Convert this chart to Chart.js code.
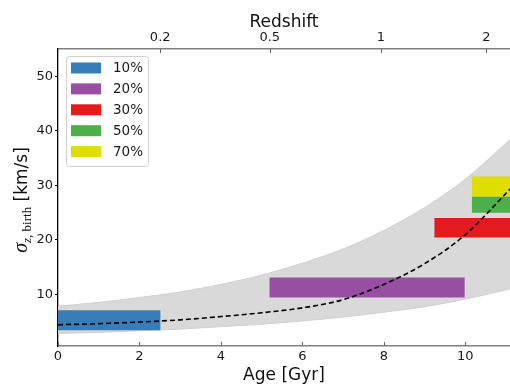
<!DOCTYPE html>
<html>
<head>
<meta charset="utf-8">
<script src="https://cdn.jsdelivr.net/npm/chart.js@4.4.1/dist/chart.umd.min.js"></script>
<style>
  html, body { margin: 0; padding: 0; background: #fff; }
  #wrap { width: 510px; height: 385px; }
</style>
</head>
<body>
<div id="wrap"><canvas id="sigmaChart"></canvas></div>
<script>
// age grid (Gyr) for the envelope and the fitted relation
const ageGrid   = [0, 1, 2, 3, 4, 5, 6, 7, 8, 9, 10, 11, 11.1];
const sigmaLow  = [2.8, 3.0, 3.3, 3.6, 4.05, 4.5, 5.1, 5.8, 6.7, 7.7, 9.1, 10.8, 11.0];
const sigmaHigh = [7.8, 8.5, 9.4, 10.4, 11.8, 13.5, 15.7, 18.3, 21.7, 25.9, 31.1, 37.7, 38.4];
const sigmaFit  = [4.4, 4.6, 4.9, 5.3, 5.9, 6.6, 7.5, 9.0, 11.8, 15.6, 20.9, 28.5, 29.3];

// boxes: age range and sigma range for each group
const groupLabels = ['10%', '20%', '30%', '50%', '70%'];
const groupColors = ['#377eb8', '#984ea3', '#e41a1c', '#4daf4a', '#dede00'];
const ageStart = [0, 5.19, 9.24, 10.16, 10.16];
const ageEnd   = [2.52, 9.99, 11.1, 11.1, 11.1];
const sigmaMin = [3.4, 9.4, 20.4, 24.95, 27.9];
const sigmaMax = [7.05, 13.05, 24.0, 27.9, 31.6];

// axis ticks
const ageTicks = [0, 2, 4, 6, 8, 10];
const sigmaTicks = [10, 20, 30, 40, 50];
const redshiftLabels = ['0.2', '0.5', '1', '2'];
const redshiftAges = [2.51, 5.2, 7.93, 10.52];

const toPoints = ys => ageGrid.map((a, i) => ({ x: a, y: ys[i] }));

const datasets = [];
// fitted relation, drawn on top
datasets.push({
    data: toPoints(sigmaFit),
    borderColor: '#000',
    borderWidth: 1.6,
    borderDash: [5, 3],
    pointRadius: 0,
    cubicInterpolationMode: 'monotone',
    fill: false
});
// one box per group: top edge filled down to the lower sigma
groupLabels.forEach((lab, i) => {
    datasets.push({
        label: lab,
        data: [{ x: ageStart[i], y: sigmaMax[i] }, { x: ageEnd[i], y: sigmaMax[i] }],
        borderWidth: 0,
        borderColor: groupColors[i],
        backgroundColor: groupColors[i],
        pointRadius: 0,
        fill: { target: { value: sigmaMin[i] } }
    });
});
// grey envelope
datasets.push({
    data: toPoints(sigmaLow),
    borderColor: '#cfcfcf',
    borderWidth: 1,
    pointRadius: 0,
    cubicInterpolationMode: 'monotone',
    fill: false
});
datasets.push({
    data: toPoints(sigmaHigh),
    borderColor: '#cfcfcf',
    borderWidth: 1,
    pointRadius: 0,
    cubicInterpolationMode: 'monotone',
    backgroundColor: '#d9d9d9',
    fill: '-1'
});

// titles, inward x ticks and the legend box
const extras = {
    id: 'extras',
    afterDraw(chart) {
        const ctx = chart.ctx;
        const area = chart.chartArea;
        const xb = chart.scales.x;
        const xt = chart.scales.xTop;
        ctx.save();

        ctx.strokeStyle = '#666';
        ctx.lineWidth = 1;
        ctx.beginPath();
        ageTicks.forEach(v => {
            const px = Math.round(xb.getPixelForValue(v)) + 0.5;
            ctx.moveTo(px, area.bottom);
            ctx.lineTo(px, area.bottom - 4);
        });
        redshiftAges.forEach(v => {
            const px = Math.round(xt.getPixelForValue(v)) + 0.5;
            ctx.moveTo(px, area.top);
            ctx.lineTo(px, area.top + 4);
        });
        ctx.stroke();

        ctx.fillStyle = '#111';
        ctx.textAlign = 'center';
        ctx.textBaseline = 'alphabetic';
        ctx.font = '17px "DejaVu Sans"';
        const cx = (area.left + area.right) / 2;
        ctx.fillText('Age [Gyr]', cx, 380);
        ctx.fillText('Redshift', cx, 27);

        // sigma_{z, birth} [km/s], rotated
        ctx.save();
        ctx.translate(27, 200);
        ctx.rotate(-Math.PI / 2);
        ctx.textAlign = 'left';
        const parts = [
            { t: '\u03c3', f: 'italic 20px "Liberation Serif"', dy: 0 },
            { t: 'z', f: 'italic 13px "Liberation Serif"', dy: 4 },
            { t: ', birth', f: '13px "Liberation Serif"', dy: 4 },
            { t: ' [km/s]', f: '17px "DejaVu Sans"', dy: 0 }
        ];
        let total = 0;
        parts.forEach(p => { ctx.font = p.f; p.w = ctx.measureText(p.t).width; total += p.w; });
        let x = -total / 2;
        parts.forEach(p => { ctx.font = p.f; ctx.fillText(p.t, x, p.dy); x += p.w; });
        ctx.restore();

        // legend
        const lx = 66, ly = 56, lw = 82, lh = 110;
        ctx.fillStyle = 'rgba(255,255,255,0.85)';
        ctx.strokeStyle = '#d0d0d0';
        ctx.lineWidth = 1;
        ctx.beginPath();
        ctx.roundRect(lx + 0.5, ly + 0.5, lw, lh, 3);
        ctx.fill();
        ctx.stroke();
        ctx.font = '13.5px "DejaVu Sans"';
        ctx.textBaseline = 'middle';
        ctx.textAlign = 'left';
        groupLabels.forEach((lab, i) => {
            const cy = 68 + i * 20.9;
            ctx.fillStyle = groupColors[i];
            ctx.fillRect(71, cy - 5.5, 30, 11);
            ctx.fillStyle = '#1a1a1a';
            ctx.fillText(lab, 113, cy + 0.5);
        });
        ctx.restore();
    }
};

const tickFont = { family: 'DejaVu Sans', size: 13 };

new Chart(document.getElementById('sigmaChart'), {
    type: 'line',
    data: { datasets: datasets },
    options: {
        responsive: true,
        maintainAspectRatio: false,
        animation: false,
        layout: { padding: 0 },
        plugins: {
            legend: { display: false },
            tooltip: { enabled: false }
        },
        scales: {
            x: {
                type: 'linear',
                position: 'bottom',
                min: 0,
                max: 11.1,
                afterBuildTicks: s => { s.ticks = ageTicks.map(v => ({ value: v })); },
                afterFit: s => { s.height = 39; },
                grid: { drawOnChartArea: false, drawTicks: false },
                border: { color: '#808080', width: 1.5 },
                ticks: { padding: 3, color: '#1a1a1a', font: tickFont }
            },
            xTop: {
                type: 'linear',
                position: 'top',
                min: 0,
                max: 11.1,
                afterBuildTicks: s => { s.ticks = redshiftAges.map(v => ({ value: v })); },
                afterFit: s => { s.height = 49; },
                grid: { drawOnChartArea: false, drawTicks: false },
                border: { color: '#808080', width: 1.5 },
                ticks: {
                    padding: 4,
                    color: '#1a1a1a',
                    font: tickFont,
                    callback: (v, i) => redshiftLabels[i]
                }
            },
            y: {
                type: 'linear',
                min: 0.5,
                max: 55,
                afterBuildTicks: s => { s.ticks = sigmaTicks.map(v => ({ value: v })); },
                afterFit: s => { s.width = 58; },
                grid: { drawOnChartArea: false, drawTicks: true, tickLength: 3, tickColor: '#000' },
                border: { color: '#000', width: 1.3 },
                ticks: { padding: 2, color: '#1a1a1a', font: tickFont }
            }
        }
    },
    plugins: [extras]
});
</script>
</body>
</html>
